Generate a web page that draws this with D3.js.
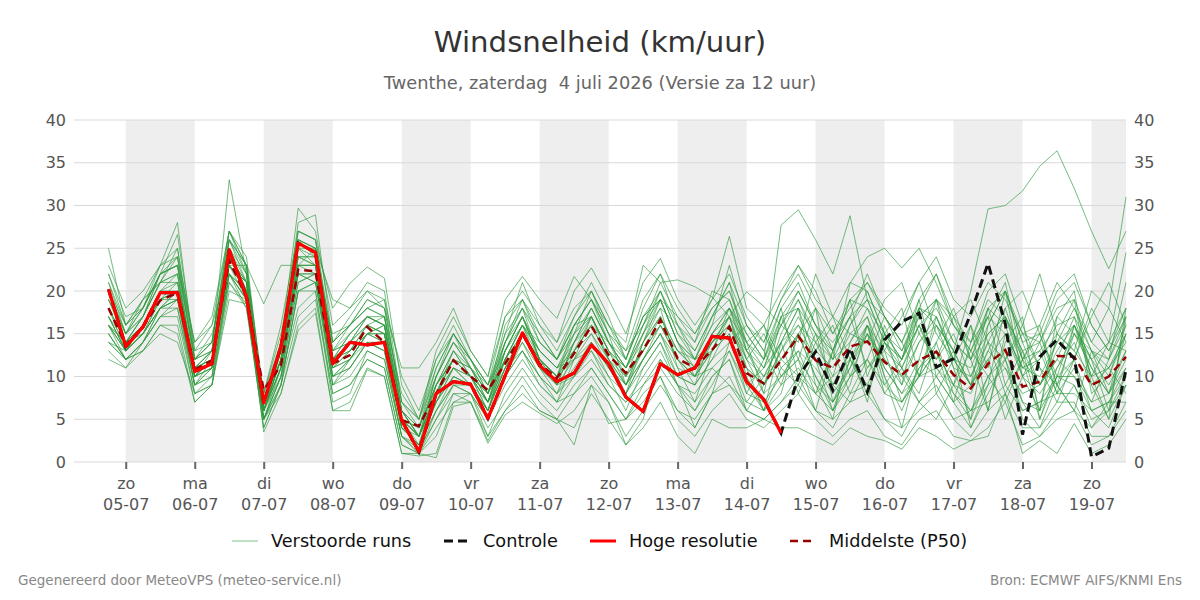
<!DOCTYPE html>
<html>
<head>
<meta charset="utf-8">
<script src="https://cdn.jsdelivr.net/npm/d3@7"></script>
<style>
  body { margin: 0; background: #fff; }
  svg { font-family: "DejaVu Sans", sans-serif; }
</style>
</head>
<body>
<div id="chart"></div>
<script>
// 6-hourly values, first one is za 04-07 18 uur
var startTime = new Date(2026, 6, 4, 18);
var stepHours = 6;
var dayNames = ["zo", "ma", "di", "wo", "do", "vr", "za"];
var yTicks = [0, 5, 10, 15, 20, 25, 30, 35, 40];

var hres = [20.2, 13.5, 15.8, 19.8, 19.8, 10.6, 11.5, 24.8, 19.3, 6.9, 13.5, 25.6, 24.5, 11.5, 14.0, 13.7, 14.0,
    4.9, 1.2, 8.0, 9.4, 9.1, 5.1, 10.1, 15.1, 11.3, 9.4, 10.4, 13.7, 11.5, 7.6, 5.9, 11.5, 10.2, 11.0, 14.7, 14.5,
    9.4, 7.3, 3.4];

var control = [20.2, 13.5, 15.8, 19.8, 19.8, 10.6, 11.5, 24.8, 19.3, 6.9, 13.5, 25.6, 24.5, 11.5, 14.0, 13.7, 14.0,
    4.9, 1.2, 8.0, 9.4, 9.1, 5.1, 10.1, 15.1, 11.3, 9.4, 10.4, 13.7, 11.5, 7.6, 5.9, 11.5, 10.2, 11.0, 14.7, 14.5,
    9.4, 7.3, 3.4, 10.0, 12.9, 8.4, 13.3, 8.2, 14.3, 16.4, 17.4, 11.1, 12.1, 17.4, 23.2, 16.2, 3.2, 12.3, 14.3, 12.1,
    0.6, 1.6, 10.8];

var p50 = [18.0, 13.7, 15.8, 18.9, 19.8, 10.8, 11.9, 23.6, 19.3, 8.4, 11.3, 22.5, 22.3, 11.5, 12.5, 15.8, 14.0,
    4.9, 4.2, 8.0, 11.9, 10.0, 8.4, 11.5, 15.0, 11.5, 9.8, 12.7, 15.9, 12.5, 10.4, 13.1, 16.6, 12.1, 11.0, 13.1, 15.8,
    10.4, 9.2, 11.9, 14.7, 11.9, 11.0, 13.5, 14.1, 11.7, 10.2, 11.9, 12.9, 10.2, 8.6, 11.5, 13.1, 8.8, 9.4, 12.4, 12.3,
    9.0, 10.0, 12.3];

var members = [
    [18, 14, 16, 20, 21, 11, 12, 25, 20, 6, 12, 26, 25, 12, 15, 17, 16, 4, 2, 7, 10, 9, 6, 12, 16, 12, 10, 13, 15, 12, 9, 12, 16, 13, 11, 15, 17, 12, 10, 14, 18, 15, 12, 16, 19, 17, 14, 18, 16, 13, 20, 29.6, 30, 31.7, 34.6, 36.4, 32, 27, 22.6, 27],
    [17, 14, 17, 21, 22, 10, 12, 26, 21, 7, 14, 27, 26, 13, 16, 18, 19, 6, 3, 9, 12, 10, 6, 13, 17, 13, 11, 14, 18, 14, 10, 15, 18, 16, 14, 20, 19, 14, 12, 27.7, 29.5, 26, 22, 28.8, 19, 14, 12, 16, 11, 9, 8, 13, 11, 8, 9, 12, 10, 7, 8, 11],
    [16, 13, 15, 18, 19, 9, 11, 23, 19, 5, 10, 21, 22, 10, 11, 14, 13, 3, 2, 6, 9, 9, 5, 10, 13, 10, 8, 11, 14, 11, 8, 12, 15, 12, 10, 14, 16, 11, 9, 13, 16, 14, 12, 20.9, 24, 25, 22.7, 25, 20.9, 16, 13, 17, 15, 11, 12, 15, 13, 10, 11, 14],
    [22, 17, 18, 22, 23, 14, 16, 23, 23, 18.5, 23, 23, 25, 19, 18, 20, 19, 10, 6, 12, 15, 12, 9, 14, 18, 15, 12, 16, 19, 14, 11, 15, 20, 15, 13, 17, 21, 16, 14, 19, 22, 18, 15, 19, 21, 18, 16, 21, 24, 19, 17, 21, 19, 15, 16, 21, 18, 14, 18, 31],
    [25, 16, 18, 23, 28, 12, 13, 33, 22, 5, 11, 24, 23, 9, 12, 15, 16, 5, 3, 10, 14, 11, 7, 14, 19, 14, 12, 15, 20, 15, 9, 14, 19, 14, 12, 16, 23, 16, 13, 18, 21, 16, 14, 17, 22, 17, 13, 17, 19, 14, 12, 18, 16, 10, 12, 17, 15, 12, 14, 24.5],
    [15, 12, 14, 17, 18, 8, 10, 21, 18, 4, 9, 20, 20, 8, 9, 12, 11, 2, 1, 4, 7, 8, 3, 8, 11, 8, 6, 9, 11, 8, 5, 9, 11, 8, 6, 10, 12, 7, 6, 9, 11, 8, 6, 10, 12, 9, 7, 11, 13, 9, 6, 10, 12, 7, 6, 10, 9, 5, 6, 9],
    [19, 15, 17, 22, 26.6, 13, 14, 27, 22, 7, 13, 28, 28.9, 14, 17, 20, 18, 7, 4, 11, 15, 12, 8, 15, 21, 16, 13, 17, 21, 17, 12, 18, 22, 18, 15, 19, 26.4, 18, 16, 20, 23, 19, 17, 21, 20, 15, 13, 18, 17, 12, 11, 16, 20, 14, 15, 20, 22, 16, 13, 17],
    [14, 12, 13, 16, 15, 7, 9, 20, 19, 3.5, 8, 16, 18, 6, 7, 11, 10, 1, 0.7, 1, 7, 7, 2.5, 6, 8, 6, 5, 4, 8, 5, 2, 4, 7, 3, 1, 5, 4, 4, 5, 4, 4, 3, 2, 4, 3, 2.5, 1.5, 4, 3, 1.5, 2.5, 3, 8, 1, 2.5, 1, 4.5, 1, 2, 5],
    [20, 15, 19, 21, 24, 11, 13, 26, 23, 6, 12, 24, 24, 13, 14, 16, 15, 5, 4, 9, 13, 10, 8, 12, 16, 13, 11, 13, 17, 13, 11, 14, 17, 13, 12, 14, 17, 14, 8, 17, 12, 6, 13, 19, 10, 15, 9, 18, 8, 12, 16, 6, 14, 17, 5, 11, 15, 13, 8, 12],
    [12, 11, 14, 18, 18, 9, 10, 22, 19, 5, 10, 18, 20, 7, 8, 13, 12, 3, 1.5, 5, 8, 8, 4, 7, 10, 7, 5, 8, 10, 7, 3, 6, 9, 6, 4, 8, 10, 6, 5, 7, 10, 6, 4, 8, 9, 5, 3, 7, 9, 5, 3, 6, 8, 4, 4, 7, 7, 3, 3, 6],
    [18, 13, 16, 19, 20, 10, 12, 24, 20, 8, 15, 25, 23, 12, 13, 16, 17, 8, 5, 10, 14, 11, 9, 13, 17, 12, 10, 14, 16, 12, 10, 13, 16, 12, 10, 13, 15, 8, 12, 18, 10, 15, 9, 13, 7, 16, 11, 8, 14, 18, 12, 6, 15, 11, 13, 8, 16, 12, 6, 17],
    [16, 14, 15, 19, 19, 12, 15, 22, 20, 8, 14, 22, 21, 15, 16, 19, 18, 11, 11, 14, 18, 13, 10, 17, 19, 16, 14, 18, 20, 16, 13, 16, 21, 17, 14, 18, 20, 15, 12, 17, 20, 16, 13, 19, 18, 15, 12, 17, 19, 16, 14, 19, 17, 13, 14, 18, 19, 14, 12, 17],
    [19, 14, 17, 22, 23, 10, 11, 25, 20, 6, 12, 25, 24, 11, 12, 15, 14, 4, 2, 7, 11, 9, 6, 11, 15, 11, 9, 12, 14, 10, 8, 11, 14, 10, 9, 12, 14, 16, 13, 9, 15, 18, 7, 11, 16, 9, 12, 19, 10, 7, 14, 17, 9, 13, 6, 15, 19, 8, 10, 15],
    [17, 13, 15, 18, 20, 11, 12, 23, 21, 6, 11, 23, 22, 12, 13, 16, 15, 5, 3, 8, 12, 10, 7, 11, 13, 9, 7, 8, 11, 8, 5, 7, 10, 5, 3, 6, 8, 5, 4, 6, 8, 5, 3, 5, 6, 3, 2, 5, 6, 3, 2.5, 4, 7, 2, 3, 5, 6, 2, 3, 7],
    [21, 15, 18, 22, 23, 12, 14, 26, 22, 7, 13, 26, 25, 14, 16, 18, 17, 6, 4, 10, 15, 11, 8, 14, 18, 14, 12, 16, 19, 15, 12, 17, 20, 16, 13, 17, 19, 13, 11, 16, 19, 15, 13, 17, 19, 14, 12, 16, 18, 14, 12, 15, 17, 12, 13, 16, 17, 13, 12, 16],
    [16, 12, 14, 17, 17, 8, 9, 22, 18, 5, 9, 20, 21, 9, 10, 13, 12, 3, 1, 5, 9, 8, 5, 9, 12, 9, 7, 10, 12, 9, 7, 10, 13, 9, 8, 11, 13, 8, 7, 10, 12, 9, 7, 10, 12, 8, 7, 10, 11, 8, 6, 9, 11, 6, 7, 10, 10, 6, 7, 10],
    [13, 11, 13, 16, 16, 7, 9, 21, 18.5, 4, 9, 17, 19, 8, 9, 12, 11, 2, 1, 3, 8, 7, 3, 6, 9, 6, 5, 2, 9, 7, 2, 5, 12, 9, 4, 8, 14, 11, 6, 8, 15, 12, 6, 9, 16, 13, 7, 10, 17, 13, 4, 9, 18, 12, 5, 10, 16, 10, 5, 9],
    [20, 16, 19, 21, 25, 13, 16, 27, 24, 7, 14, 29.7, 27, 16, 18, 21, 20, 7, 5, 12, 16, 12, 9, 17, 20, 17, 14, 20, 22.7, 19, 15, 21, 23.8, 19, 16, 19, 22, 17, 14, 19, 23, 20, 15, 18, 21, 17, 14, 19, 22, 16, 13, 18, 20, 15, 14, 19, 21, 16, 13, 18],
    [17, 13, 16, 20, 20, 9, 11, 24, 21, 6, 11, 23, 23, 10, 12, 15, 16, 5, 3, 8, 13, 10, 7, 13, 17, 12, 10, 15, 18, 14, 11, 16, 19, 14, 12, 16, 18, 12, 15, 11, 9, 14, 17, 12, 8, 15, 18, 10, 13, 9, 16, 11, 20, 14, 9, 12, 17, 10, 14, 18],
    [15, 12, 14, 18, 19, 10, 12, 23, 20, 7, 12, 22, 22, 11, 13, 15, 14, 4, 2, 8, 12, 10, 8, 12, 15, 12, 10, 12, 15, 11, 9, 12, 15, 11, 10, 13, 15, 9, 11, 14, 8, 13, 16, 10, 15, 8, 11, 16, 12, 15, 10, 14, 8, 12, 16, 9, 6, 13, 11, 8],
    [23, 18, 20, 23, 24, 14, 17, 27, 23, 8, 16, 27, 26, 18, 20.9, 22.8, 21.5, 9, 5, 13, 17, 13, 10, 19, 21.7, 19, 16.8, 21.7, 19, 16, 14, 23, 21, 21.3, 20.5, 19.3, 17, 19.9, 18.2, 16, 14, 22, 17, 15, 14, 19, 21, 15, 12, 17, 19, 14, 12, 16, 22, 15, 13, 20, 18, 14],
    [14, 12, 13, 15, 14, 8, 9, 19, 18.5, 5, 8, 15.4, 17.4, 6, 6, 10.8, 10, 1, 1, 0.5, 6.5, 7, 2.2, 5.5, 7, 5.7, 4.5, 6, 9, 4.5, 5, 8, 10, 6, 5, 8, 9, 6, 5, 7, 9, 6, 5, 7, 8, 5, 4, 6, 8, 5, 6, 7, 9, 6, 7, 8, 8, 6, 7, 7],
    [18, 14, 16, 19, 21, 11, 13, 24, 20, 6, 12, 24, 23, 12, 14, 17, 16, 6, 4, 9, 13, 11, 8, 13, 16, 13, 11, 12, 17, 13, 9, 13, 17, 13, 11, 14, 16, 13, 16, 10, 12, 18, 13, 8, 12, 17, 14, 10, 16, 13, 9, 18, 12, 15, 11, 7, 12, 18, 14, 13],
    [16, 13, 15, 18, 20, 10, 11, 22, 19, 6, 10, 21, 22, 9, 11, 14, 13, 4, 3, 7, 10, 9, 7, 10, 13, 10, 8, 10, 13, 9, 7, 9, 12, 9, 7, 10, 12, 6, 9, 12, 15, 10, 6, 12, 9, 14, 11, 7, 10, 13, 9, 12, 5, 10, 14, 8, 11, 7, 12, 21],
    [16, 14, 16, 20, 22, 10, 13, 24, 21, 6, 12, 24, 24, 13, 15, 17, 16, 5, 2, 9, 12, 11, 7, 13, 17, 13, 11, 15, 17, 12, 8, 14, 18, 11, 7, 13, 17, 10, 6, 14, 18, 9, 5, 14, 17, 10, 4, 12, 19, 11, 5, 16, 20, 10, 6, 17, 20, 9, 5, 18],
    [19, 15, 17, 21, 22, 11, 12, 25, 21, 6, 13, 25, 25, 13, 14, 17, 16, 6, 3, 8, 11, 10, 6, 12, 16, 14, 12, 16, 17, 13, 11, 15, 19, 17, 15, 18, 20, 14, 16, 12, 10, 8, 13, 17, 11, 13, 17, 21, 15, 12, 9, 14, 18, 20, 15, 10, 12, 17, 21, 16],
    [14, 13, 15, 18, 19, 9, 10, 22, 19, 5, 9, 20, 21, 10, 11, 14, 14, 4, 2, 6, 10, 9, 6, 11, 14, 11, 8, 13, 16, 12, 9, 14, 17, 12, 10, 11, 9, 7, 10, 14, 16, 12, 9, 7, 11, 14, 10, 7, 5, 9, 13, 10, 7, 12, 15, 9, 6, 4, 7, 11],
    [21, 16, 18, 22, 24, 12, 14, 26, 23, 7, 13, 26, 25, 14, 16, 18, 17, 6, 3, 10, 14, 12, 9, 15, 18, 12, 9, 14, 18, 14, 11, 16, 20, 15, 12, 13, 18, 15, 12, 16, 20, 16, 12, 14, 18, 13, 11, 15, 19, 17, 14, 20, 22, 16, 11, 9, 15, 11, 8, 13],
    [17, 13, 15, 19, 20, 10, 11, 23, 20, 6, 11, 22, 22, 10, 12, 14, 13, 3, 1, 6, 9, 8, 5, 10, 14, 10, 7, 12, 13, 10, 6, 11, 14, 9, 6, 9, 13, 9, 6, 11, 13, 8, 10, 12, 15, 11, 8, 10, 13, 7, 4, 8, 12, 5, 3, 6, 9, 4, 6, 10],
    [18, 14, 17, 21, 21, 11, 13, 24, 20, 7, 12, 23, 23, 12, 14, 16, 15, 5, 4, 9, 12, 11, 8, 14, 17, 12, 10, 16, 19, 15, 13, 19, 22, 16, 12, 17, 21, 13, 9, 15, 19, 14, 10, 16, 20, 15, 12, 18, 22, 17, 12, 17, 21, 12, 9, 13, 16, 11, 8, 15],
    [15, 12, 14, 17, 19, 9, 12, 22, 20, 5, 10, 22, 21, 11, 13, 15, 15, 4, 2, 7, 11, 9, 6, 11, 15, 12, 9, 10, 14, 11, 8, 12, 15, 10, 9, 12, 16, 12, 8, 10, 13, 11, 8, 11, 15, 12, 9, 14, 17, 12, 9, 13, 17, 13, 9, 14, 18, 13, 10, 16],
    [20, 15, 18, 22, 23, 12, 13, 25, 22, 6, 13, 26, 24, 12, 15, 17, 17, 6, 3, 8, 12, 10, 7, 12, 16, 11, 9, 14, 17, 13, 10, 13, 16, 12, 9, 15, 18, 13, 10, 12, 15, 10, 7, 12, 16, 11, 8, 12, 10, 7, 9, 12, 15, 10, 8, 11, 14, 9, 11, 15],
    [16, 13, 16, 19, 20, 10, 12, 23, 21, 6, 11, 23, 23, 11, 12, 15, 15, 5, 3, 8, 11, 10, 7, 12, 15, 12, 10, 13, 16, 14, 12, 17, 19, 14, 11, 14, 17, 11, 9, 13, 17, 13, 11, 15, 17, 12, 10, 14, 16, 11, 10, 15, 17, 11, 10, 14, 16, 12, 9, 13],
    [22, 16, 19, 23, 25, 12, 14, 27, 23, 7, 14, 27, 26, 14, 16, 19, 18, 7, 5, 11, 15, 12, 8, 16, 19, 15, 12, 17, 20, 16, 12, 17, 19, 14, 10, 15, 18, 14, 11, 17, 18, 12, 9, 13, 16, 10, 6, 11, 14, 8, 5, 10, 13, 7, 4, 9, 12, 6, 4, 9]
];

var width = 1200, height = 600;
var margin = {top: 120, right: 74, bottom: 138, left: 74};

var svg = d3.select("#chart").append("svg").attr("width", width).attr("height", height);

var timeScale = d3.scaleTime()
    .domain([new Date(2026, 6, 4, 6), new Date(2026, 6, 19, 12)])
    .range([margin.left, width - margin.right]);
var windScale = d3.scaleLinear().domain([0, 40]).range([height - margin.bottom, margin.top]);

var timeOf = function(i) { return d3.timeHour.offset(startTime, i * stepHours); };
var line = d3.line()
    .x(function(d, i) { return timeScale(timeOf(i)); })
    .y(function(d) { return windScale(d); });

// shaded days, every other day starting with zo 05-07
var days = d3.timeDay.range(new Date(2026, 6, 5), new Date(2026, 6, 20));
svg.append("g").selectAll("rect")
    .data(days.filter(function(d, i) { return i % 2 == 0; }))
    .enter().append("rect")
    .attr("x", function(d) { return timeScale(d); })
    .attr("y", windScale(40))
    .attr("width", function(d) { return Math.min(timeScale(d3.timeDay.offset(d, 1)), width - margin.right) - timeScale(d); })
    .attr("height", windScale(0) - windScale(40))
    .attr("fill", "#eeeeee");

// grid
svg.append("g").selectAll("line").data(yTicks).enter().append("line")
    .attr("x1", margin.left).attr("x2", width - margin.right)
    .attr("y1", function(d) { return windScale(d); })
    .attr("y2", function(d) { return windScale(d); })
    .attr("stroke", "#d9d9d9").attr("stroke-width", 1);

// axes
var leftAxis = d3.axisLeft(windScale).tickValues(yTicks).tickSize(0).tickPadding(8);
var rightAxis = d3.axisRight(windScale).tickValues(yTicks).tickSize(0).tickPadding(8);
var bottomAxis = d3.axisBottom(timeScale).tickValues(days.slice(0, 15)).tickSize(7).tickPadding(5)
    .tickFormat(function() { return ""; });

svg.append("g").attr("class", "axis").attr("transform", "translate(" + margin.left + ",0)").call(leftAxis);
svg.append("g").attr("class", "axis").attr("transform", "translate(" + (width - margin.right) + ",0)").call(rightAxis);
var xg = svg.append("g").attr("class", "axis xaxis").attr("transform", "translate(0," + windScale(0) + ")").call(bottomAxis);

svg.selectAll(".axis .domain").remove();
svg.selectAll(".axis text").attr("font-size", "16px").attr("fill", "#555").attr("font-family", "DejaVu Sans");
xg.selectAll(".tick line").attr("stroke", "#666").attr("stroke-width", 2);

xg.selectAll(".tick text").each(function(d) {
    var t = d3.select(this).text(null).attr("dy", null).attr("y", 0);
    t.append("tspan").attr("x", 0).attr("y", 27).text(dayNames[d.getDay()]);
    t.append("tspan").attr("x", 0).attr("y", 48).text(d3.timeFormat("%d-%m")(d));
});

// series
svg.append("g").selectAll("path").data(members).enter().append("path")
    .attr("d", line)
    .attr("fill", "none")
    .attr("stroke", "#2e9a3e")
    .attr("stroke-opacity", 0.65)
    .attr("stroke-width", 1);

svg.append("path").datum(p50).attr("d", line)
    .attr("fill", "none").attr("stroke", "#990000").attr("stroke-width", 2.5)
    .attr("stroke-dasharray", "8,5");
svg.append("path").datum(control).attr("d", line)
    .attr("fill", "none").attr("stroke", "#111").attr("stroke-width", 3)
    .attr("stroke-dasharray", "9,5");
svg.append("path").datum(hres).attr("d", line)
    .attr("fill", "none").attr("stroke", "#ff0000").attr("stroke-width", 3.3)
    .attr("stroke-linejoin", "round");

// titles
svg.append("text").attr("x", width / 2).attr("y", 52)
    .attr("text-anchor", "middle").attr("font-size", "29.2px").attr("fill", "#333")
    .text("Windsnelheid (km/uur)");
svg.append("text").attr("x", width / 2).attr("y", 89)
    .attr("text-anchor", "middle").attr("font-size", "17.8px").attr("fill", "#666")
    .attr("xml:space", "preserve").style("white-space", "pre")
    .text("Twenthe, zaterdag  4 juli 2026 (Versie za 12 uur)");

// legend
var legend = [
    {label: "Verstoorde runs", x: 232, color: "#7cc48a", width: 1, dash: null},
    {label: "Controle", x: 444, color: "#111", width: 3, dash: "9,5"},
    {label: "Hoge resolutie", x: 590, color: "#ff0000", width: 3, dash: null},
    {label: "Middelste (P50)", x: 790, color: "#990000", width: 2.5, dash: "8,5"}
];
var lg = svg.append("g").selectAll("g").data(legend).enter().append("g")
    .attr("transform", function(d) { return "translate(" + d.x + ",541)"; });
lg.append("line").attr("x1", 0).attr("x2", 26).attr("y1", 0).attr("y2", 0)
    .attr("stroke", function(d) { return d.color; })
    .attr("stroke-width", function(d) { return d.width; })
    .attr("stroke-dasharray", function(d) { return d.dash; });
lg.append("text").attr("x", 39).attr("y", 6).attr("font-size", "17.7px").attr("fill", "#111")
    .text(function(d) { return d.label; });

// footer
svg.append("text").attr("x", 18).attr("y", 585).attr("font-size", "13.5px").attr("fill", "#888")
    .text("Gegenereerd door MeteoVPS (meteo-service.nl)");
svg.append("text").attr("x", 1182).attr("y", 585).attr("text-anchor", "end").attr("font-size", "13.5px").attr("fill", "#888")
    .text("Bron: ECMWF AIFS/KNMI Ens");
</script>
</body>
</html>
